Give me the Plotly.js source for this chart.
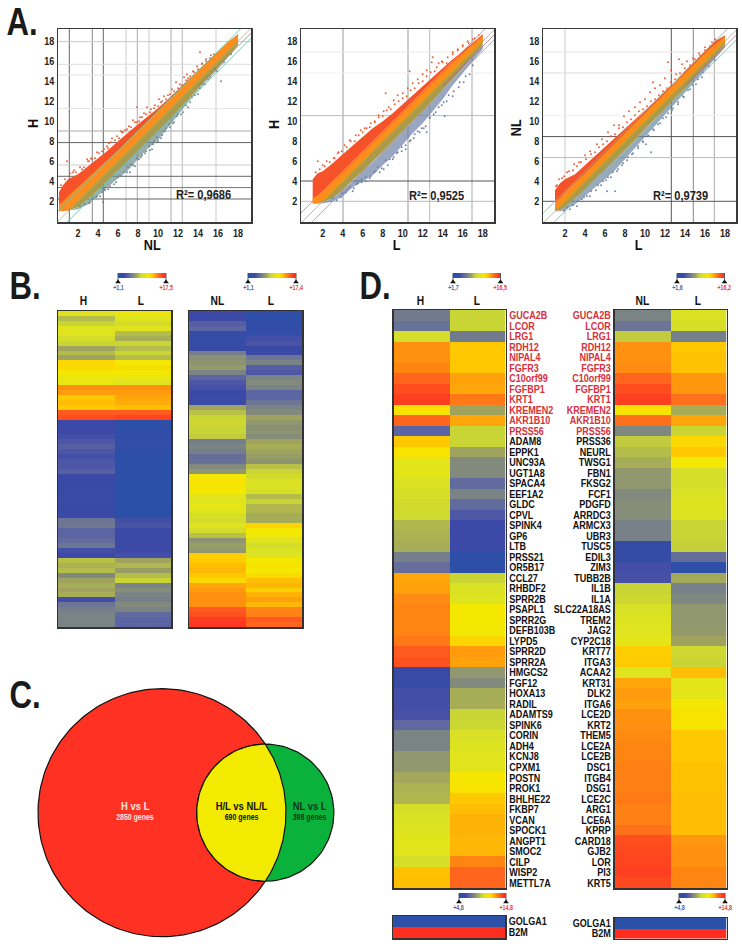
<!DOCTYPE html>
<html><head><meta charset="utf-8">
<script src="https://cdn.plot.ly/plotly-3.0.1.min.js"></script>
<style>html,body{margin:0;padding:0;background:#fff}#c{width:742px;height:946px}</style></head>
<body><div id="c"></div>
<script>
// ---------- Panel A values ----------
const a1Xs=[0.1,0.5,1,2,3,4,5,6,7,8,9,10,11,12,13,14,15,16,17,18];
const a1Up=[2.9,3.6,4.2,4.7,5.5,6.3,7.1,8,8.9,9.7,10.5,11.3,12.2,13.2,14.2,15.1,16,17,17.9,18.7];
const a1Orange=[1.7,2,2.5,3.4,4.3,5.2,6.1,7.1,8.1,9.1,10,11,12,13,14,15,15.9,16.9,17.9,18.7];
const a1Olive=[1,1.05,1.1,1.4,2.2,3.1,4.1,5.1,6.1,7,8,9,10,11.1,12.2,13.2,14.3,15.4,16.5,17.6];
const a1Low=[1,1,1.05,1.2,1.7,2.6,3.4,4.3,5.1,6.2,7.3,8.1,9.3,10.6,11.9,13.1,14.2,15.2,16.4,17.5];
const a1RedX=[0.9,1.6,2.4,2.9,3.3,3.9,4.4,4.9,5.4,5.9,6.3,6.7,7.1,7.5,7.9,8.2,8.6,8.9,9.3,9.7,10.1,10.6,11,11.4,11.8,12.2,12.6,13,13.5,13.9,14.4,14.8,15.3,14.2,7.9,10.3,12.9,5.1,6.4,3.1,0.3,0.7,1.2,1.5,1.8,2.2,2.6,3,3.4,3.7,4.1,4.6,5,5.3,5.7,6.1,6.5,6.9,7.3,7.7,8.1,8.4,8.8,9.2,9.6,10,10.4,10.8,11.2,11.6,12,12.4,12.8,13.2,13.6,14,14.4,14.8,15.2,15.6];
const a1RedY=[6,5.1,5.2,6.2,6.3,6.9,7,7.5,8.3,8.5,9,9.1,9.5,10.1,11.4,10.4,10.8,11.4,11.2,11.6,12.2,12.5,12.6,13.2,13.9,13.7,14.4,14.3,15,15.5,15.8,16.2,16.6,16.9,9.9,11.9,14.7,7.8,8.9,6,3.6,4.2,4.8,4.9,4.9,5.4,5.4,6,6.2,6.3,6.8,7.2,7.3,7.9,8.1,8.3,8.9,9.2,9.4,9.9,10,10.4,10.7,10.9,11.3,11.5,12,12.2,12.7,13,13.3,13.6,14.1,14.5,14.9,15.2,15.7,16,16.3,16.7];
const a1BlueX=[2.6,3.2,3.8,4.4,4.7,5,5.6,6,6.4,6.9,7.3,7.7,8.1,8.4,8.8,9.2,9.6,10,10.4,10.8,11.2,11.6,12,12.5,13,13.4,14,14.5,15,15.7,16.3,4.5,7.2,9.4,2.2,2.7,3.1,3.5,3.9,4.2,4.6,5.2,5.8,6.2,6.6,7,7.5,7.9,8.3,8.7,9.1,9.5,9.9,10.3,10.7,11.1,11.5,11.9,12.3,12.8,13.2,13.7,14.2,14.7,15.2,15.9,16.6,17.3];
const a1BlueY=[1.7,1.9,2.4,2.9,3.1,3.2,3.7,4.4,4.5,4.9,5.7,5.5,6.2,6.6,7,7.1,8,8,8.6,9.3,9.4,9.9,10.7,10.9,11.4,12.4,12.7,13.7,14.2,15.2,14,1.9,4.9,7.2,1.5,1.7,1.8,2.3,2.5,2.5,3.2,3.5,3.9,4.6,4.9,5.4,5.6,6.3,6.4,6.8,7.5,7.7,8.4,8.3,9,9.7,9.8,10.5,10.7,11.6,11.9,12.6,13.3,13.7,14.4,15,15.9,16.7];
const a1GridX=[1.13,3.43,4.53,6.8,7.93,9.1,11.3,12.43,15.8];
const a1GridXShade=['#666','#888','#666','#ccc','#aaa','#ccc','#aaa','#bbb','#ccc'];
const a1GridY=[17.97,15.7,14.63,11.27,9.03,7.87,5.63,4.5,3.37,2.23];
const a1GridYShade=['#ccc','#ddd','#e4e4e4','#e4e4e4','#aaa','#666','#ccc','#666','#777','#666'];

const a2Xs=[1,1.5,2,3,4,5,6,7,8,9,10,11,12,13,14,15,16,17,18];
const a2Up=[4.2,4.8,5,5.8,6.7,7.6,8.5,9.3,10,10.8,11.7,12.6,13.5,14.5,15.4,16.2,17,17.9,18.7];
const a2Orange=[2.3,2.6,3,3.9,4.9,5.9,6.9,8,9,10,11,12,12.9,13.9,14.9,15.9,16.8,17.7,18.6];
const a2Olive=[1.8,1.8,1.9,2.3,3.1,4.1,5,5.9,6.9,7.9,8.9,10,11,12.1,13.1,14.2,15.3,16.4,17.6];
const a2Low=[1.75,1.75,1.8,1.95,2.5,3.4,4,4.6,5.6,6.5,7.7,8.8,9.8,11,12.2,13.6,14.8,16,17.2];
const a2RedX=[1.5,2,2.4,3.1,3.6,4.2,4.7,5.3,5.8,6.2,6.7,7.2,7.6,8.1,8.6,9.1,9.5,10,10.5,11,11.5,12,12.4,12.9,13.4,13.9,14.4,15,15.5,16,16.6,17.2,17.6,10.7,13,8.3,1.3,1.7,2.2,2.7,3.2,3.5,3.9,4.4,4.8,5.2,5.6,6,6.4,6.8,7.2,7.6,8,8.4,8.8,9.2,9.6,10,10.4,10.8,11.2,11.6,12,12.4,12.8,13.2,13.6,14,14.5,15,15.5,16,16.5,17];
const a2RedY=[6,5.6,6,6.3,6.9,7.6,8.1,8.6,9.1,9.3,9.4,10,10.6,11,11.4,12.1,12.6,12.8,13.3,13.8,14.2,14.7,15.1,15.9,15.4,16,15.8,16.9,17.2,17.6,17.8,18.3,18.6,15,16.4,12.8,4.9,5.2,5.5,5.9,6.3,6.8,7,7.4,8,8,8.6,8.9,9.3,9.8,9.9,10.4,10.5,11.1,11.2,11.7,12,12.3,12.5,13.1,13.3,13.8,14,14.5,14.9,15,15.8,15.9,16.4,16.7,17.1,17.5,18,18.2];
const a2BlueX=[3,3.8,4.4,5,5.4,5.9,6.3,6.8,7.3,7.7,8.1,8.5,9,9.4,9.9,10.3,10.8,11.2,11.7,12.1,12.7,13.3,13.9,14.4,15,15.6,16.1,16.7,12.4,14.2,3.4,3.9,4.3,4.7,5.1,5.5,5.9,6.3,6.7,7.1,7.5,7.9,8.3,8.7,9.1,9.5,9.9,10.3,10.7,11.1,11.5,11.9,12.3,12.7,13.1,13.6,14.1,14.6,15.1,15.7,16.3,17];
const a2BlueY=[2.3,2.4,3.2,3,3.7,4.2,4,4.5,5,4.9,5.2,5.6,6.2,6.8,7,7.2,8.1,8.7,8.9,9.3,10.4,10.9,11.6,12,12.5,13.4,13.9,14.7,8.9,10.5,2.1,2.8,2.9,3.4,3.3,3.8,3.9,4.4,4.3,4.9,5.4,5.3,6.1,6.2,6.4,6.9,7.4,7.6,8,8.3,9,9.3,9.5,10.3,10.7,11.4,11.9,12.6,13,13.9,14.5,15.6];
const a2GridX=[4.03,10.53,12.7,16.93];
const a2GridXShade=['#999','#999','#bbb','#aaa'];
const a2GridY=[16.93,14.83,10.57,4.03,2];
const a2GridYShade=['#e8e8e8','#eee','#bbb','#555','#bbb'];

const a3Xs=[1,1.5,2,3,4,5,6,7,8,9,10,11,12,13,14,15,16,17,18];
const a3Up=[3.1,3.8,4.2,4.7,5.6,6.5,7.4,8.3,9.3,10.2,11.1,12,13,13.9,15,16,17,18,18.6];
const a3Orange=[1.9,2.3,2.9,3.8,4.8,5.8,6.8,7.9,8.9,9.9,10.9,11.8,12.8,13.8,14.8,15.8,16.8,17.7,18.5];
const a3Olive=[1.05,1.1,1.4,2.3,3.2,4.2,5.2,6.1,7.1,8.1,9.2,10.2,11.3,12.3,13.3,14.4,15.5,16.5,17.6];
const a3Low=[1,1,1.1,1.7,2.5,3.4,4.2,5.1,6.2,7.3,8.5,9.6,10.7,11.8,12.9,14,15.1,16.2,17.4];
const a3RedX=[1.2,1.7,2.2,2.9,3.4,4,4.5,5.2,5.7,6.3,6.9,7.4,7.9,8.4,9,9.5,10,10.5,11,11.5,12,12.6,13.1,13.7,14.2,14.8,15.4,16,16.7,17.2,10.8,12.3,13.4,1.1,1.4,1.9,2.4,2.8,3.2,3.6,4.1,4.6,5,5.4,5.8,6.2,6.6,7,7.4,7.8,8.2,8.6,9,9.4,9.8,10.2,10.6,11,11.4,11.8,12.2,12.6,13,13.5,14,14.5,15,15.5,16,16.5,17];
const a3RedY=[3.6,4.3,4.9,5.7,5.9,6.6,7,7.7,8.2,8.9,9.6,9.6,10.5,11,11.4,11.9,12.2,12.9,13.3,13.6,14.3,15.1,14.7,15.7,16,16.3,16.8,17.4,17.9,18,13.9,15.9,16.2,3.5,4.2,4.5,5,5.1,5.5,5.9,6.2,6.7,6.9,7.4,7.7,8,8.5,8.7,9.3,9.4,9.9,10.2,10.6,11,11.2,11.5,12,12.2,12.6,13,13.3,13.9,14.2,14.8,15.3,15.6,16.2,16.6,17.1,17.5,18.2];
const a3BlueX=[2.5,3.2,3.9,4.5,5.1,5.6,6.1,6.6,7.2,7.7,8.2,8.7,9.3,9.8,10.4,10.9,11.5,12.1,12.7,13.3,13.9,14.5,15.1,15.7,6.2,7,10.1,10.6,1.9,2.2,2.8,3.3,3.7,4.2,4.6,5.3,5.8,6.3,6.8,7.3,7.8,8.3,8.8,9.3,9.8,10.3,10.8,11.3,11.8,12.3,12.8,13.3,13.8,14.3,14.8,15.3,15.8,16.4,17];
const a3BlueY=[1.2,1.5,2.4,2.5,3.1,3.6,4.1,4.4,5,5.6,6.1,6.7,7.3,7.9,8.5,9.1,9.8,10.4,11.1,11.7,12.4,13.2,13.7,14.4,3,3,7.7,6.9,1.05,1.4,1.6,2,2.2,2.5,3,3.6,4,4.4,4.9,5.2,5.8,6.4,6.8,7.5,8,8.6,9.2,9.7,10.3,10.8,11.3,11.9,12.5,13.1,13.6,14.2,14.9,15.5,16.1];
const a3GridX=[2,12.63,14.83,16.93];
const a3GridXShade=['#ccc','#555','#888','#aaa'];
const a3GridY=[16.93,14.83,10.6,8.47,6.37,2];
const a3GridYShade=['#e4e4e4','#ddd','#eee','#555','#bbb','#555'];

const scatterTicks=[2,4,6,8,10,12,14,16,18];
const r2Labels=['R²= 0,9686','R²= 0,9525','R²= 0,9739'];

// ---------- Panel B values (0 = blue ... 11 = red) ----------
const bH=[6,4.5,5,6,6,5.5,5,4,4.5,4,7.5,7.5,7,6.5,6.5,9,8.8,8,8.2,8,10,10.3,1,1,1,1.2,1.5,1.8,1.5,1.2,1.5,1.5,1.8,1,.8,.8,.8,.9,.8,.8,.8,.9,2.5,2.6,2,2,2.2,2.5,1.2,1,4.6,4.3,4.5,3.2,4,4.2,4,4.2,1.2,2.5,2.8,3,3,3];
const bL1=[6.6,6,5.5,6,4.5,4.2,5,4.5,5,4.5,7,7.3,7,6.5,6,9,8.8,8.6,8.5,8.2,10,10.5,.2,.2,.3,.3,.5,.3,.2,.1,.1,.1,.2,.1,0,0,0,0,0,0,0,0,1.2,1.4,1,1,1,1,1,1.2,4,4.4,3.8,4.5,5,3,3.3,3,2.8,3.2,3,2.2,2,2];
const bNL=[1,1,1.8,2,.6,.5,.7,.8,2.8,3.4,3.5,3.7,3,2,1.5,1.3,.8,.9,.9,4,4.6,5,5.2,5,5,4.8,2.8,3,2.8,2.3,2.4,3.2,3.6,7,7.2,7.1,7,6.2,6,6.3,6,5.6,5.5,6,5.5,4.6,3.5,3.8,3.6,7.8,7.9,8.2,8.3,8,7.5,8.6,8.8,9,9,9,10,10.2,10.7,10.8];
const bL2=[.3,.2,.4,.4,.5,1.2,1.4,.8,1,2.5,3,1.8,1.5,3,3.2,3,2,2,2.5,3,3.2,4,3.6,3.4,3.5,3.3,4,4.2,4,3.8,3.5,4.6,5,5.4,5.8,5.8,5.6,4.5,5,4.4,4.4,4.2,4.2,7.6,7,6.8,6,5.5,5.8,6,7,7.2,7,7.4,8.2,8.3,7.8,8.4,8.7,8.3,9.2,9.3,10,9.8];

// ---------- Panel D values ----------
const dGenesLeft=['GUCA2B','LCOR','LRG1','RDH12','NIPAL4','FGFR3','C10orf99','FGFBP1','KRT1','KREMEN2','AKR1B10','PRSS56','ADAM8','EPPK1','UNC93A','UGT1A8','SPACA4','EEF1A2','GLDC','CPVL','SPINK4','GP6','LTB','PRSS21','OR5B17','CCL27','RHBDF2','SPRR2B','PSAPL1','SPRR2G','DEFB103B','LYPD5','SPRR2D','SPRR2A','HMGCS2','FGF12','HOXA13','RADIL','ADAMTS9','SPINK6','CORIN','ADH4','KCNJ8','CPXM1','POSTN','PROK1','BHLHE22','FKBP7','VCAN','SPOCK1','ANGPT1','SMOC2','CILP','WISP2','METTL7A'];
const dGenesRight=['GUCA2B','LCOR','LRG1','RDH12','NIPAL4','FGFR3','C10orf99','FGFBP1','KRT1','KREMEN2','AKR1B10','PRSS56','PRSS36','NEURL','TWSG1','FBN1','FKSG2','FCF1','PDGFD','ARRDC3','ARMCX3','UBR3','TUSC5','EDIL3','ZIM3','TUBB2B','IL1B','IL1A','SLC22A18AS','TREM2','JAG2','CYP2C18','KRT77','ITGA3','ACAA2','KRT31','DLK2','ITGA6','LCE2D','KRT2','THEM5','LCE2A','LCE2B','DSC1','ITGB4','DSG1','LCE2C','ARG1','LCE6A','KPRP','CARD18','GJB2','LOR','PI3','KRT5'];
const dH=[2.7,2.4,5.5,9,9,9.2,9.8,10.3,10.6,7.2,9.8,2,8,7.2,6.2,6.2,5.8,5.6,5.4,5.3,4.4,4.3,4.2,2.8,2.3,8.6,8.7,9.1,9.2,9.2,9.2,9.4,10,10.2,.8,.7,1.2,1.2,1.3,2.1,3,3,3.6,3.6,4.1,4.3,4.4,5.6,5.8,5.9,6.1,6.1,5.6,8.1,8.2];
const dL1=[5,5,2.7,8,8,8,8.7,8.6,9.4,4,8.6,5,5,4,3.2,3.2,2.2,3,2.2,1.5,1,1,1,.2,.2,5,5.8,5.9,7,7,6.9,7.6,8.8,8.7,3.6,3.2,4.2,4.2,5,5.1,5.7,5.9,6.1,6.1,7.1,7.2,8,8.2,8.4,8.4,8.3,8.3,9.2,9.8,9.8];
const dNL=[3,2.5,4.8,9,9,9.1,9.8,10.3,10.6,7.2,9.6,3.1,4.8,4.5,4.2,3.6,3.6,3.2,3.3,3.3,2.9,2.9,.6,.6,1.2,1.3,5,5.2,5.7,5.9,6,6.2,7.8,7.9,6,8.6,8.8,8.7,9,9,9.1,9.2,9.2,9.3,9.3,9.3,9.4,9.3,9.3,9.6,10.3,10.4,10.5,10.6,10.4];
const dL2=[5.8,5.6,2.8,8,8.1,8.1,8.9,8.9,9.6,4.2,8.6,5,7.5,8,6.9,5.6,5.6,5.8,5.9,5.9,5,5,4.9,2.3,.2,4.1,2.9,3.1,3.6,3.6,3.7,4,5.2,5,8.2,6.2,6.2,6.9,7.2,7.1,8,8,8,8.1,8.1,8.1,8.2,8.2,8.2,8.2,8.9,9,9,9.2,9.2];
const controlGenes=['GOLGA1','B2M'];
const controlLevels=[0,11];
const gradientLevels=[0,1,2,3,4,5,6,7,8,9,10,11];

// ---------- Panel C values ----------
const vennLabels=['H vs L','H/L vs NL/L','NL vs L'];
const vennCounts=['2850 genes','690 genes','398 genes'];

// ---------- styling & layout ----------
const W=742,H=946;
const FONT='"Liberation Sans",Arial,sans-serif';
const NARROW_RATIO=0.82;
const scale=['#2a50a8','#3d49a6','#5c65a4','#7b8485','#9fa35e','#c9d535','#e0e41e','#f5e800','#ffc800','#ff9010','#ff5a20','#ff2e20'].map((c,i)=>[i/11,c]);
const traces=[],annotations=[],shapes=[];
const layout={width:W,height:H,margin:{l:0,r:0,t:0,b:0},paper_bgcolor:'#fff',plot_bgcolor:'rgba(0,0,0,0)',
  showlegend:false,annotations,shapes,hovermode:false};
let nAx=0;
function axes(x0,x1,y0,y1,xo,yo){
  nAx++;const s=nAx===1?'':String(nAx);
  layout['xaxis'+s]=Object.assign({domain:[x0/W,x1/W],anchor:'y'+s,showgrid:false,zeroline:false,showticklabels:false,ticks:''},xo);
  layout['yaxis'+s]=Object.assign({domain:[1-y1/H,1-y0/H],anchor:'x'+s,showgrid:false,zeroline:false,showticklabels:false,ticks:''},yo);
  return {x:'x'+s,y:'y'+s};
}
function txt(x,y,text,size,color,o){
  annotations.push(Object.assign({xref:'paper',yref:'paper',x:x/W,y:1-y/H,text,showarrow:false,xanchor:'center',yanchor:'middle',
    font:{family:FONT,size,color:color||'#111',weight:'bold'},borderpad:0,borderwidth:0},o||{}));
}
// Panel A
function scatterPanel(box,xr,yr,d){
  const frame={showline:true,mirror:true,linecolor:'#3a3a3a',linewidth:1.5,showticklabels:true,tickmode:'array',tickvals:scatterTicks,
    tickfont:{family:FONT,size:11,color:'#222',weight:'bold'}};
  const a=axes(box[0],box[1],box[2],box[3],Object.assign({range:xr},frame),Object.assign({range:yr},frame));
  d.gx.forEach((v,i)=>shapes.push({type:'line',layer:'below',xref:a.x,yref:a.y,x0:v,x1:v,y0:yr[0],y1:yr[1],line:{color:d.gxs[i],width:1}}));
  d.gy.forEach((v,i)=>shapes.push({type:'line',layer:'below',xref:a.x,yref:a.y,x0:xr[0],x1:xr[1],y0:v,y1:v,line:{color:d.gys[i],width:1}}));
  const band=(lo,hi,color)=>traces.push({type:'scatter',mode:'lines',xaxis:a.x,yaxis:a.y,hoverinfo:'skip',fill:'toself',fillcolor:color,line:{width:0,color:'rgba(0,0,0,0)'},
    x:d.xs.concat(d.xs.slice().reverse()),y:hi.concat(lo.slice().reverse())});
  const mid=d.xs.map((x,i)=>Math.max(x,d.olive[i]));
  band(d.low,d.olive,d.blueFill);
  band(d.olive,mid,'#ab9a4c');
  band(mid,d.up,'#f5522a');
  band(mid,d.orange,'#ff8c1c');
  const pts=(x,y,color)=>traces.push({type:'scatter',mode:'markers',xaxis:a.x,yaxis:a.y,hoverinfo:'skip',x,y,marker:{size:1.9,color,line:{width:0}}});
  pts(d.rx,d.ry,'#ee5a30');pts(d.bx,d.by,d.blueDot);
  const diag=[xr[0],19.5];
  const line=(xs,off,color,w)=>traces.push({type:'scatter',mode:'lines',xaxis:a.x,yaxis:a.y,hoverinfo:'skip',x:xs,y:xs.map(v=>v+off),line:{color,width:w}});
  line([d.goldFrom,18],0,'#d9a826',1.6);line(diag,1,'#6fc6a4',.9);line(diag,-1,'#6fc6a4',.9);line(diag,0,'#8e9a5a',.6);line([14,19.5],-.5,'#a0607a',.7);
}
scatterPanel([58,251,29,222],[0,19.3],[-.07,19.23],{goldFrom:1.2,xs:a1Xs,up:a1Up,orange:a1Orange,olive:a1Olive,low:a1Low,rx:a1RedX,ry:a1RedY,bx:a1BlueX,by:a1BlueY,gx:a1GridX,gxs:a1GridXShade,gy:a1GridY,gys:a1GridYShade,blueFill:'rgba(111,140,146,0.7)',blueDot:'#6c8a92'});
scatterPanel([301,494,29,222],[-.17,19.13],[-.07,19.23],{goldFrom:2,xs:a2Xs,up:a2Up,orange:a2Orange,olive:a2Olive,low:a2Low,rx:a2RedX,ry:a2RedY,bx:a2BlueX,by:a2BlueY,gx:a2GridX,gxs:a2GridXShade,gy:a2GridY,gys:a2GridYShade,blueFill:'rgba(105,124,165,0.68)',blueDot:'#6d7fa8'});
scatterPanel([543,736,29,222],[-.2,19.1],[-.07,19.23],{goldFrom:1.2,xs:a3Xs,up:a3Up,orange:a3Orange,olive:a3Olive,low:a3Low,rx:a3RedX,ry:a3RedY,bx:a3BlueX,by:a3BlueY,gx:a3GridX,gxs:a3GridXShade,gy:a3GridY,gys:a3GridYShade,blueFill:'rgba(108,132,160,0.7)',blueDot:'#6f84a4'});
txt(152,245,'NL',15.5);txt(32,124,'H',15.5,null,{textangle:-90});
txt(397,245,'L',15.5);txt(273,125,'H',15.5,null,{textangle:-90});
txt(638,245,'L',15.5);txt(516,128,'NL',15.5,null,{textangle:-90});
txt(204,194,r2Labels[0],13.5,'#222');txt(437,195,r2Labels[1],13.5,'#222');txt(680,195,r2Labels[2],13.5,'#222');

// heatmaps
function heat(box,cols,names,genes,side){
  const n=cols[0].length;
  const yo={range:[n-.5,-.5],showline:true,mirror:true,linecolor:'#333',linewidth:1.5};
  if(genes){Object.assign(yo,{showticklabels:true,tickmode:'array',tickvals:genes.map((g,i)=>i),
    ticktext:genes.map((g,i)=>i<12?'<span style="color:#d8303c">'+g+'</span>':g),side,tickfont:{family:FONT,size:11,color:'#111',weight:'bold'},ticklen:0});}
  const a=axes(box[0],box[1],box[2],box[3],{range:[-.5,cols.length-.5],showline:true,mirror:true,linecolor:'#333',linewidth:1.5},yo);
  const z=cols[0].map((_,r)=>cols.map(c=>c[r]));
  traces.push({type:'heatmap',xaxis:a.x,yaxis:a.y,z,zmin:0,zmax:11,colorscale:scale,showscale:false,hoverinfo:'skip'});
}
heat([58,171,311,627],[bH,bL1]);
heat([189,302,311,627],[bNL,bL2]);
heat([393.5,505.5,310,888],[dH,dL1],null,dGenesLeft,'right');
heat([614.5,726.5,310,888],[dNL,dL2],null,dGenesRight,'left');
function control(box,side){
  const a=axes(box[0],box[1],box[2],box[3],{range:[-.5,.5],showline:true,mirror:true,linecolor:'#333',linewidth:1.5},
   {range:[1.5,-.5],showline:true,mirror:true,linecolor:'#333',linewidth:1.5,showticklabels:true,tickmode:'array',tickvals:[0,1],ticktext:controlGenes,side,ticklen:0,
    tickfont:{family:FONT,size:11,color:'#111',weight:'bold'}});
  traces.push({type:'heatmap',xaxis:a.x,yaxis:a.y,z:controlLevels.map(v=>[v]),zmin:0,zmax:11,colorscale:scale,showscale:false,hoverinfo:'skip'});
}
control([393,505,916,938],'right');
control([614.5,726.5,918,938.5],'left');

// overlay in page pixels for Venn & colour-key markers
const page=axes(0,W,0,H,{range:[0,W],visible:false},{range:[H,0],visible:false});
function key(x0,x1,y,lo,hi){
  const a=axes(x0,x1,y,y+5,{range:[-.5,11.5]},{range:[-.5,.5]});
  traces.push({type:'heatmap',xaxis:a.x,yaxis:a.y,z:[gradientLevels],zmin:0,zmax:11,colorscale:scale,showscale:false,zsmooth:'best',hoverinfo:'skip'});
  traces.push({type:'scatter',mode:'markers',xaxis:page.x,yaxis:page.y,hoverinfo:'skip',x:[x0,x1],y:[y+9,y+9],marker:{symbol:'triangle-up',size:5,color:'#111',line:{width:0}}});
  traces.push({type:'scatter',mode:'lines',xaxis:page.x,yaxis:page.y,hoverinfo:'skip',x:[x0,x0],y:[y,y+8],line:{color:'#111',width:.7}});
  traces.push({type:'scatter',mode:'lines',xaxis:page.x,yaxis:page.y,hoverinfo:'skip',x:[x1,x1],y:[y,y+8],line:{color:'#111',width:.7}});
  txt(x0,y+14.5,lo,6.5,'#4a5ca8');txt(x1,y+14.5,hi,6.5,'#e2403c');
}
key(118,166,273,'+1,1','+17,5');key(248,296,273,'+1,1','+17,4');
key(453,500.5,273,'+1,7','+16,5');key(677,724.5,273,'+1,6','+16,2');
key(459,506,893,'+4,8','+14,8');key(679,725,893,'+4,8','+14,8');

// headers
[[83.7,'H'],[141,'L'],[217.7,'NL'],[270.7,'L'],[420,'H'],[476.7,'L'],[642,'NL'],[698,'L']].forEach(h=>txt(h[0],301,h[1],12.5,'#111'));

// Venn (geometry of the circles)
const bigC=[162,812.7],bigR=124,smallC=[265.3,812.7],smallR=68.6;
const circ=(c,r,a0,a1,n)=>{const o=[];for(let i=0;i<=n;i++){const t=a0+(a1-a0)*i/n;o.push([c[0]+r*Math.cos(t),c[1]+r*Math.sin(t)]);}return o;};
const poly=(p,fill)=>traces.push({type:'scatter',mode:'lines',xaxis:page.x,yaxis:page.y,hoverinfo:'skip',fill:'toself',fillcolor:fill,x:p.map(q=>q[0]),y:p.map(q=>q[1]),line:{color:'#111',width:1.2}});
poly(circ(bigC,bigR,0,2*Math.PI,180),'#ff3123');
poly(circ(smallC,smallR,0,2*Math.PI,120),'#0ab23c');
const half=Math.atan2(68.6,103.3);
const lens=circ(smallC,smallR,Math.PI/2,Math.PI*1.5,60).concat(circ(bigC,bigR,-half,half,60));
poly(lens.concat([lens[0]]),'#f2ea00');
txt(135,805.5,vennLabels[0],11.5,'#ffe6e0');txt(135,817,vennCounts[0],8.5,'#ffe6e0');
txt(241,805.5,vennLabels[1],11.5,'#111');txt(241,817,vennCounts[1],8.5,'#111');
txt(309,806,vennLabels[2],11.5,'#0c3a18');txt(309,817,vennCounts[2],8.5,'#0c3a18');

// Panel letters
[['A.',22,22],['B.',25,286],['C.',25,695],['D.',375,286]].forEach(l=>txt(l[1],l[2],l[0],38,'#1a1a1a'));

Plotly.newPlot('c',traces,layout,{staticPlot:true,displayModeBar:false}).then(gd=>{
  // the reference uses a condensed face: compress the installed one horizontally
  gd.querySelectorAll('svg text').forEach(t=>{
    const w=t.getComputedTextLength();
    if(w>0){t.setAttribute('textLength',(w*NARROW_RATIO).toFixed(2));t.setAttribute('lengthAdjust','spacingAndGlyphs');}
  });
});
</script></body></html>
